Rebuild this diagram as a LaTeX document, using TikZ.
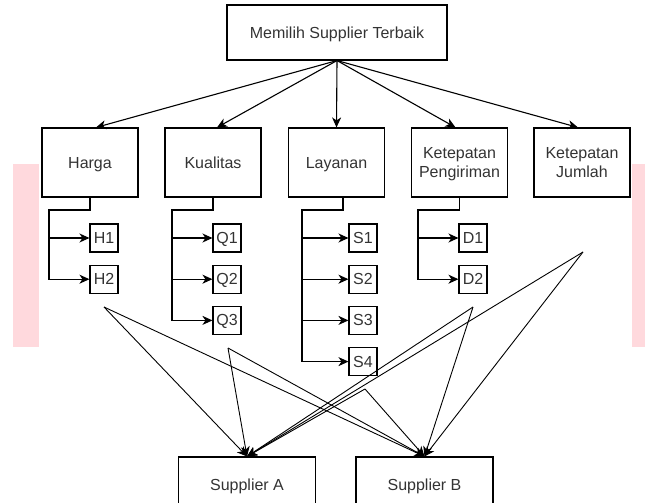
\documentclass[tikz,border=0pt]{standalone}
\usepackage{fontspec}
\setmainfont{Liberation Sans}
\usetikzlibrary{arrows.meta,calc}
\definecolor{txt}{HTML}{333333}
\definecolor{pinkbar}{HTML}{FFD9DD}
\begin{document}
\begin{tikzpicture}[x=1pt,y=-1pt,
  box/.style={draw=black, line width=1.1pt, text=txt, font=\fontsize{16}{19.5}\selectfont,
    align=center, inner sep=0pt, text depth=0pt},
  crit/.style={box, minimum width=96pt, minimum height=69pt},
  leaf/.style={box, minimum width=28pt, minimum height=28pt},
  supp/.style={box, minimum width=137pt, minimum height=55pt},
  conn/.style={line width=1.1pt, -{Stealth[length=10pt,width=9pt,inset=3pt]}},
  link/.style={line width=0.9pt, -{Stealth[length=10pt,width=9pt,inset=3pt]}}]
\useasboundingbox (0,0) rectangle (645,503);
% pink bars
\fill[pinkbar] (13,164) rectangle (39,347);
\fill[pinkbar] (632,164) rectangle (646,347);
% top
\node[box, minimum width=220pt, minimum height=55pt] (goal) at (337,32.5) {Memilih Supplier Terbaik};
% criteria
\node[crit] (harga) at (90,162.5) {Harga};
\node[crit] (kual) at (213,162.5) {Kualitas};
\node[crit] (lay) at (336.5,162.5) {Layanan};
\node[crit] (peng) at (459.5,162.5) {Ketepatan\\Pengiriman};
\node[crit] (juml) at (582,162.5) {Ketepatan\\Jumlah};
% leaves
\node[leaf] (h1) at (104,238) {H1};
\node[leaf] (h2) at (104,279.2) {H2};
\node[leaf] (q1) at (227,238) {Q1};
\node[leaf] (q2) at (227,279.2) {Q2};
\node[leaf] (q3) at (227,320.4) {Q3};
\node[leaf] (s1) at (363,238) {S1};
\node[leaf] (s2) at (363,279.2) {S2};
\node[leaf] (s3) at (363,320.4) {S3};
\node[leaf] (s4) at (363,361.6) {S4};
\node[leaf] (d1) at (473,238) {D1};
\node[leaf] (d2) at (473,279.2) {D2};
% suppliers
\node[supp] (sa) at (247,484.5) {Supplier A};
\node[supp] (sb) at (424.5,484.5) {Supplier B};
% top arrows
\draw[conn] (goal.south) -- ($(harga.north)+(6,0)$);
\draw[conn] (goal.south) -- ($(kual.north)+(4,0)$);
\draw[conn] (goal.south) -- (lay.north);
\draw[conn] (goal.south) -- ($(peng.north)+(-4,0)$);
\draw[conn] (goal.south) -- ($(juml.north)+(-4,0)$);
% bus coordinates
\coordinate (hb) at (49,210);
\coordinate (qb) at (172,210);
\coordinate (ls) at (343,197);
\coordinate (sbus) at (302,210);
\coordinate (db) at (418,210);
\foreach \l in {h1,h2}{\draw[conn] (harga.south) |- (hb) |- (\l.west);}
\foreach \l in {q1,q2,q3}{\draw[conn] (kual.south) |- (qb) |- (\l.west);}
\foreach \l in {s1,s2,s3,s4}{\draw[conn] (ls) |- (sbus) |- (\l.west);}
\foreach \l in {d1,d2}{\draw[conn] (peng.south) |- (db) |- (\l.west);}
% sources for links to suppliers
\coordinate (hH) at (104,307);
\coordinate (hQ) at (228,348);
\coordinate (hS) at (365,389);
\coordinate (hD) at (473,307);
\coordinate (hJ) at (583,252);
\foreach \s in {hH,hQ,hS,hD,hJ}{
  \draw[link] (\s) -- (sa.north);
  \draw[link] (\s) -- (sb.north);
}
\end{tikzpicture}
\end{document}
